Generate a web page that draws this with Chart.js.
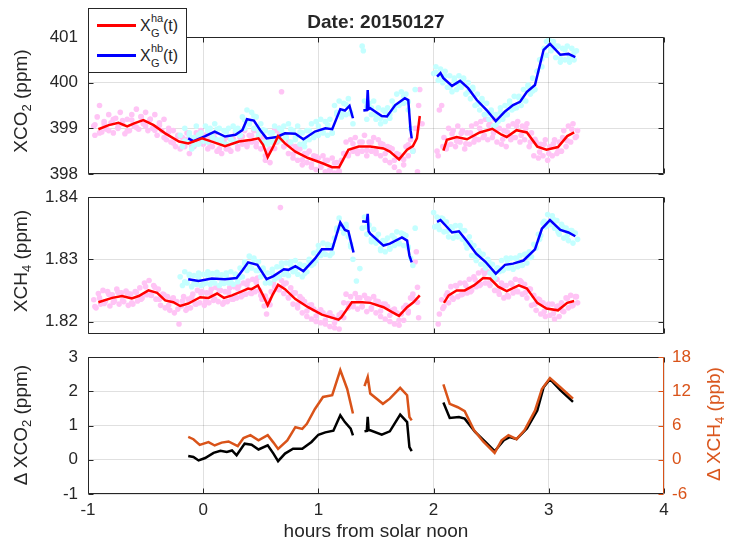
<!DOCTYPE html>
<html>
<head>
<meta charset="utf-8">
<script src="https://cdn.jsdelivr.net/npm/chart.js@4.4.1/dist/chart.umd.min.js"></script>
<style>
  body { margin: 0; background: #fff; font-family: "Liberation Sans", Arial, sans-serif; color: #262626; }
  #wrap { position: relative; width: 732px; height: 543px; overflow: hidden; }
  canvas { position: absolute; left: 0; }
  .t { position: absolute; white-space: nowrap; line-height: 1; }
  .rot { transform: translate(-50%, -50%) rotate(-90deg); font-size: 19px; }
  .rot sub { font-size: 13px; vertical-align: -4px; line-height: 1; }
  #legend { position: absolute; left: 88px; top: 8px; width: 97px; height: 63px; border: 1px solid #262626; background: #fff; }
  .swatch { position: absolute; left: 97px; width: 39px; height: 3px; }
</style>
</head>
<body>
<div id="wrap">
  <canvas id="c1" width="732" height="190" style="top:0"></canvas>
  <canvas id="c2" width="732" height="170" style="top:180px"></canvas>
  <canvas id="c3" width="732" height="203" style="top:340px"></canvas>

  <div class="t" style="left:376px;top:12px;font-size:19px;font-weight:bold;transform:translateX(-50%)">Date: 20150127</div>

  <div class="t rot" style="left:22px;top:101px">XCO<sub>2</sub> (ppm)</div>
  <div class="t rot" style="left:22px;top:261px">XCH<sub>4</sub> (ppm)</div>
  <div class="t rot" style="left:22px;top:425px">&Delta; XCO<sub>2</sub> (ppm)</div>
  <div class="t rot" style="left:715px;top:424px;color:#d95319">&Delta; XCH<sub>4</sub> (ppb)</div>
  <div class="t" style="left:376px;top:521px;font-size:19px;transform:translateX(-50%)">hours from solar noon</div>

  <div id="legend"></div>
  <div class="swatch" style="top:24px;background:#ff0000"></div>
  <div class="swatch" style="top:54px;background:#0000ff"></div>
  <div class="t" style="left:140px;top:18px;font-size:16px">X</div>
  <div class="t" style="left:151px;top:13px;font-size:11px">ha</div>
  <div class="t" style="left:151px;top:28px;font-size:11px">G</div>
  <div class="t" style="left:163px;top:18px;font-size:16px">(t)</div>
  <div class="t" style="left:140px;top:48px;font-size:16px">X</div>
  <div class="t" style="left:151px;top:43px;font-size:11px">hb</div>
  <div class="t" style="left:151px;top:58px;font-size:11px">G</div>
  <div class="t" style="left:163px;top:48px;font-size:16px">(t)</div>
</div>
<script>
// axis ticks
const X_TICKS = [-1, 0, 1, 2, 3, 4];
const X_TICK_LABELS = ['-1', '0', '1', '2', '3', '4'];
const CO2_TICKS = [398, 399, 400, 401];
const CO2_TICK_LABELS = ['398', '399', '400', '401'];
const CH4_TICKS = [1.82, 1.83, 1.84];
const CH4_TICK_LABELS = ['1.82', '1.83', '1.84'];
const DCO2_TICKS = [-1, 0, 1, 2, 3];
const DCO2_TICK_LABELS = ['-1', '0', '1', '2', '3'];
const DCH4_TICKS = [-6, 0, 6, 12, 18];
const DCH4_TICK_LABELS = ['-6', '0', '6', '12', '18'];

// XCO2 smoothed lines (ppm), null = gap
const co2HaHours = [-0.91,-0.82,-0.735,-0.66,-0.6,-0.52,-0.43,-0.33,-0.21,-0.13,-0.01,0.075,0.19,0.31,0.42,0.48,0.52,0.56,0.6,0.65,0.71,0.8,0.91,1.03,1.12,1.18,1.26,1.35,1.45,1.565,1.62,1.70,1.77,1.82,1.855,1.88,1.95,2.085,2.115,2.20,2.29,2.40,2.51,2.59,2.635,2.72,2.81,2.90,2.98,3.08,3.16,3.22];
const co2HaVals  = [398.98,399.07,399.12,399.04,399.11,399.18,399.07,398.89,398.71,398.67,398.78,398.71,398.61,398.71,398.75,398.78,398.64,398.37,398.56,398.83,398.67,398.49,398.35,398.24,398.15,398.15,398.53,398.6,398.6,398.56,398.49,398.32,398.53,398.61,398.78,399.27,null,398.51,398.75,398.81,398.76,398.91,398.99,398.86,398.81,398.96,398.91,398.6,398.53,398.59,398.83,398.91];
const co2HbHours = [-0.13,-0.085,0.017,0.10,0.19,0.28,0.34,0.38,0.44,0.495,0.55,0.64,0.71,0.80,0.87,0.97,1.06,1.12,1.19,1.23,1.27,1.30,1.35,1.39,1.42,1.428,1.436,1.45,1.55,1.595,1.667,1.75,1.78,1.80,1.81,1.9,2.03,2.06,2.085,2.16,2.23,2.30,2.375,2.46,2.54,2.62,2.69,2.75,2.81,2.88,2.955,3.01,3.10,3.17,3.23];
const co2HbVals  = [398.78,398.72,398.83,398.93,398.82,398.86,398.96,399.2,399.17,398.96,398.78,398.81,398.89,398.88,398.76,398.93,399.0,398.98,399.42,399.39,399.49,399.22,null,399.39,399.40,399.84,399.42,399.44,399.27,399.26,399.51,399.66,399.62,398.96,398.78,null,400.13,400.21,400.1,399.93,400.04,399.88,399.62,399.4,399.16,399.37,399.51,399.58,399.8,399.95,400.72,400.85,400.61,400.63,400.56];

// XCH4 smoothed lines (ppm)
const ch4HaHours = [-0.91,-0.79,-0.705,-0.62,-0.56,-0.475,-0.40,-0.33,-0.26,-0.20,-0.13,-0.026,0.046,0.12,0.18,0.25,0.34,0.39,0.42,0.475,0.52,0.56,0.60,0.65,0.71,0.80,0.91,1.03,1.175,1.20,1.29,1.38,1.45,1.565,1.64,1.70,1.77,1.825,1.88,1.95,2.09,2.13,2.20,2.27,2.35,2.43,2.49,2.56,2.635,2.68,2.74,2.81,2.90,2.98,3.08,3.16,3.22];
const ch4HaVals  = [1.8231,1.8238,1.8241,1.8237,1.8241,1.8250,1.8246,1.8234,1.8231,1.8225,1.8229,1.8239,1.8238,1.8245,1.8238,1.8242,1.8249,1.8253,1.8252,1.8258,1.8242,1.8226,1.8242,1.8259,1.8252,1.8236,1.8223,1.8211,1.8203,1.8207,1.8231,1.8231,1.8230,1.8223,1.8215,1.8209,1.8223,1.8231,1.8242,null,1.8230,1.8242,1.8250,1.8250,1.8258,1.8270,1.8269,1.8256,1.8249,1.8253,1.8258,1.8253,1.8230,1.8221,1.8218,1.8230,1.8233];
const ch4HbHours = [-0.13,-0.04,0.075,0.19,0.29,0.34,0.39,0.47,0.55,0.61,0.70,0.74,0.80,0.87,0.97,1.03,1.12,1.19,1.23,1.26,1.305,1.34,1.38,1.42,1.428,1.436,1.45,1.565,1.62,1.725,1.77,1.79,1.81,1.9,2.03,2.06,2.10,2.16,2.22,2.29,2.37,2.45,2.54,2.62,2.69,2.78,2.88,2.94,3.01,3.10,3.17,3.23];
const ch4HbVals  = [1.8268,1.8265,1.8269,1.8268,1.8270,1.8282,1.8295,1.8291,1.8268,1.8273,1.8284,1.8283,1.8289,1.8281,1.8301,1.8316,1.8316,1.8359,1.8347,1.8345,1.8311,null,1.8361,1.8360,1.8373,1.8345,1.8341,1.8322,1.8325,1.8335,1.8330,1.8306,1.8295,null,1.8360,1.8363,1.8355,1.8343,1.8345,1.8329,1.8309,1.8296,1.8277,1.8291,1.8293,1.8298,1.8316,1.8349,1.8363,1.8347,1.8343,1.8337];

// differences: dXCO2 (ppm, left) and dXCH4 (ppb, right)
const dco2Hours = [-0.13,-0.085,-0.04,0.017,0.09,0.15,0.205,0.25,0.29,0.36,0.42,0.48,0.56,0.61,0.65,0.71,0.78,0.86,0.94,1.00,1.06,1.13,1.19,1.23,1.28,1.30,1.35,1.40,1.42,1.428,1.436,1.45,1.55,1.62,1.71,1.77,1.79,1.81,1.9,2.085,2.14,2.22,2.27,2.36,2.45,2.53,2.61,2.66,2.72,2.81,2.90,2.955,3.01,3.10,3.21];
const dco2Vals  = [0.11,0.08,-0.02,0.05,0.20,0.26,0.23,0.27,0.13,0.47,0.44,0.30,0.42,0.18,-0.04,0.18,0.32,0.32,0.52,0.73,0.80,0.85,1.30,1.10,0.91,0.71,null,0.83,0.84,1.25,0.86,0.86,0.73,0.83,1.32,1.10,0.37,0.25,null,1.67,1.22,1.25,1.20,0.81,0.52,0.25,0.57,0.66,0.60,0.91,1.44,2.12,2.35,2.03,1.69];
const dch4Hours = [-0.13,-0.085,-0.03,0.046,0.10,0.16,0.22,0.30,0.35,0.41,0.48,0.56,0.61,0.65,0.73,0.80,0.86,0.90,0.97,1.04,1.12,1.19,1.25,1.30,1.35,1.40,1.428,1.45,1.56,1.62,1.71,1.77,1.79,1.81,1.9,2.085,2.14,2.21,2.27,2.35,2.43,2.53,2.59,2.65,2.72,2.79,2.88,2.94,3.01,3.10,3.21];
const dch4Vals  = [4.0,3.6,2.6,3.1,2.5,3.0,3.2,2.4,3.8,4.3,3.4,4.3,3.0,1.9,3.4,5.7,5.4,6.3,8.9,11.0,11.3,15.7,12.4,8.1,null,12.9,14.5,11.6,9.8,10.7,12.6,11.3,7.5,6.9,null,13.2,9.8,9.2,8.5,5.2,3.2,1.2,3.4,4.3,3.6,5.2,8.6,12.4,14.3,12.7,10.7];

// individual soundings [hours, value] - outer spread
const co2HaDots = [[-0.95,399.05],[-0.94,398.85],[-0.92,399.25],[-0.9,399.5],[-0.88,398.92],[-0.86,399.15],[-0.84,398.98],[-0.82,399.3],[-0.8,399.12],[-0.78,398.9],[-0.76,399.22],[-0.74,399.0],[-0.72,399.35],[-0.7,399.1],[-0.68,398.88],[-0.66,399.2],[-0.64,398.95],[-0.62,399.3],[-0.6,399.05],[-0.58,399.42],[-0.56,398.98],[-0.54,399.25],[-0.52,399.1],[-0.5,399.35],[-0.48,398.95],[-0.46,399.2],[-0.44,399.0],[-0.42,399.3],[-0.4,398.85],[-0.38,399.12],[-0.36,398.95],[-0.34,399.2],[-0.32,398.75],[-0.3,399.0],[-0.28,398.7],[-0.26,398.95],[-0.24,398.6],[-0.22,398.85],[-0.2,398.55],[-0.18,398.8],[-0.16,398.6],[-0.14,398.9],[-0.12,398.45],[-0.1,398.75],[-0.08,398.6],[-0.06,398.9],[-0.04,398.7],[-0.02,398.95],[0,398.65],[0.02,398.85],[0.04,398.55],[0.06,398.8],[0.08,398.6],[0.1,398.9],[0.12,398.5],[0.14,398.7],[0.16,398.45],[0.18,398.75],[0.2,398.55],[0.22,398.8],[0.24,398.5],[0.26,398.7],[0.28,398.9],[0.3,398.55],[0.32,398.8],[0.34,398.65],[0.36,398.95],[0.38,398.6],[0.4,398.85],[0.42,398.7],[0.44,398.95],[0.46,398.6],[0.48,398.9],[0.5,398.55],[0.52,398.8],[0.54,398.3],[0.56,398.5],[0.58,398.25],[0.6,398.7],[0.62,398.95],[0.64,398.7],[0.66,399.0],[0.68,399.8],[0.7,398.6],[0.72,398.8],[0.74,398.45],[0.76,398.65],[0.78,398.35],[0.8,398.6],[0.82,398.3],[0.84,398.55],[0.86,398.2],[0.88,398.45],[0.9,398.25],[0.92,398.5],[0.94,398.15],[0.96,398.4],[0.98,398.1],[1,398.35],[1.02,398.15],[1.04,398.4],[1.06,398.05],[1.08,398.3],[1.1,398.1],[1.12,398.35],[1.14,398.02],[1.16,398.25],[1.18,398.05],[1.2,398.3],[1.22,398.45],[1.24,398.7],[1.26,398.4],[1.28,398.75],[1.3,398.5],[1.32,398.8],[1.34,398.45],[1.36,398.7],[1.38,398.5],[1.4,398.85],[1.42,398.4],[1.44,398.7],[1.46,398.5],[1.48,398.8],[1.5,398.45],[1.52,398.75],[1.54,398.4],[1.56,398.65],[1.58,398.3],[1.6,398.6],[1.62,398.25],[1.64,398.55],[1.66,398.15],[1.68,398.45],[1.7,398.05],[1.72,398.35],[1.74,398.2],[1.76,398.6],[1.78,398.4],[1.8,398.75],[1.82,398.5],[1.84,399.0],[1.86,398.05],[1.87,399.5],[1.88,399.85],[1.9,399.1],
  [2.03,398.5],[2.05,399.4],[2.07,399.5],[2.09,398.8],[2.11,398.55],[2.13,399.0],[2.15,398.65],[2.17,398.95],[2.19,398.6],[2.21,399.05],[2.23,398.7],[2.25,398.95],[2.27,398.55],[2.29,398.9],[2.31,398.65],[2.33,399.05],[2.35,398.7],[2.37,399.1],[2.39,398.75],[2.41,399.15],[2.43,398.8],[2.45,399.2],[2.47,398.75],[2.49,399.1],[2.51,398.8],[2.53,399.2],[2.55,398.7],[2.57,399.0],[2.59,398.65],[2.61,398.95],[2.63,398.6],[2.65,399.05],[2.67,398.75],[2.69,399.1],[2.71,398.8],[2.73,399.15],[2.75,398.7],[2.77,399.05],[2.79,398.75],[2.81,399.1],[2.83,398.6],[2.85,398.9],[2.87,398.4],[2.89,398.7],[2.91,398.35],[2.93,398.65],[2.95,398.4],[2.97,398.75],[2.99,398.3],[3.01,398.6],[3.03,398.4],[3.05,398.75],[3.07,398.45],[3.09,398.7],[3.11,398.5],[3.13,398.95],[3.15,398.6],[3.17,399.05],[3.19,398.7],[3.21,399.1],[3.23,398.8],[3.25,398.95]];
const co2HbDots = [[-0.2,398.85],[-0.18,398.6],[-0.16,399.0],[-0.14,398.7],[-0.12,398.9],[-0.1,398.55],[-0.08,398.8],[-0.06,399.05],[-0.04,398.65],[-0.02,398.9],[0,398.75],[0.02,399.05],[0.04,398.7],[0.06,399.0],[0.08,398.8],[0.1,399.1],[0.12,398.75],[0.14,399.0],[0.16,398.7],[0.18,398.95],[0.2,398.65],[0.22,399.0],[0.24,398.75],[0.26,399.05],[0.28,398.7],[0.3,399.0],[0.32,398.85],[0.34,399.25],[0.36,399.0],[0.38,399.4],[0.4,399.1],[0.42,399.35],[0.44,399.0],[0.46,399.25],[0.48,398.85],[0.5,399.1],[0.52,398.7],[0.54,398.95],[0.56,398.65],[0.58,398.9],[0.6,398.7],[0.62,399.05],[0.64,398.8],[0.66,399.0],[0.68,398.75],[0.7,399.05],[0.72,398.8],[0.74,399.1],[0.76,398.7],[0.78,398.95],[0.8,398.75],[0.82,399.05],[0.84,398.65],[0.86,398.9],[0.88,398.6],[0.9,398.95],[0.92,398.75],[0.94,399.1],[0.96,398.8],[0.98,399.15],[1,398.85],[1.02,399.2],[1.04,398.9],[1.06,399.15],[1.08,398.85],[1.1,399.2],[1.12,398.9],[1.14,399.5],[1.16,399.3],[1.18,399.6],[1.2,399.25],[1.22,399.55],[1.24,399.3],[1.26,399.65],[1.28,399.35],[1.3,399.1],[1.38,400.8],[1.39,400.7],[1.4,399.6],[1.42,399.2],[1.44,399.55],[1.46,399.3],[1.48,399.6],[1.5,399.2],[1.52,399.45],[1.54,399.1],[1.56,399.4],[1.58,399.15],[1.6,399.45],[1.62,399.3],[1.64,399.6],[1.66,399.4],[1.68,399.75],[1.7,399.5],[1.72,399.8],[1.74,399.55],[1.76,399.75],[1.78,399.4],[1.8,399.0],[1.82,398.5],[1.84,399.85],
  [2,400.2],[2.02,400.35],[2.04,400.05],[2.06,400.3],[2.08,400.0],[2.1,400.25],[2.12,399.9],[2.14,400.15],[2.16,399.8],[2.18,400.1],[2.2,399.85],[2.22,400.15],[2.24,399.9],[2.26,400.1],[2.28,399.75],[2.3,400.0],[2.32,399.65],[2.34,399.9],[2.36,399.5],[2.38,399.75],[2.4,399.4],[2.42,399.65],[2.44,399.3],[2.46,399.55],[2.48,399.2],[2.5,399.4],[2.52,399.05],[2.54,399.3],[2.56,399.15],[2.58,399.45],[2.6,399.2],[2.62,399.5],[2.64,399.3],[2.66,399.6],[2.68,399.4],[2.7,399.7],[2.72,399.45],[2.74,399.7],[2.76,399.5],[2.78,399.85],[2.8,399.6],[2.82,399.95],[2.84,399.75],[2.86,400.1],[2.88,399.85],[2.9,400.25],[2.92,400.5],[2.94,400.35],[2.96,400.75],[2.98,400.6],[3,400.95],[3.02,400.7],[3.04,400.9],[3.06,400.55],[3.08,400.8],[3.1,400.45],[3.12,400.75],[3.14,400.5],[3.16,400.8],[3.18,400.45],[3.2,400.75],[3.22,400.5],[3.24,400.7]];
const ch4HaDots = [[-0.95,1.8235],[-0.93,1.8222],[-0.91,1.8245],[-0.89,1.8228],[-0.87,1.825],[-0.85,1.8232],[-0.83,1.8248],[-0.81,1.8225],[-0.79,1.8243],[-0.77,1.8233],[-0.75,1.8252],[-0.73,1.8228],[-0.71,1.8246],[-0.69,1.8232],[-0.67,1.8249],[-0.65,1.8226],[-0.63,1.8244],[-0.61,1.8228],[-0.59,1.8248],[-0.57,1.8233],[-0.55,1.8254],[-0.53,1.8238],[-0.51,1.8262],[-0.49,1.8243],[-0.47,1.8266],[-0.45,1.8242],[-0.43,1.8258],[-0.41,1.8236],[-0.39,1.8252],[-0.37,1.8226],[-0.35,1.8244],[-0.33,1.8222],[-0.31,1.824],[-0.29,1.8218],[-0.27,1.8236],[-0.25,1.8214],[-0.23,1.8232],[-0.21,1.8196],[-0.19,1.8225],[-0.17,1.824],[-0.15,1.8218],[-0.13,1.8236],[-0.11,1.8222],[-0.09,1.8244],[-0.07,1.8228],[-0.05,1.825],[-0.03,1.823],[-0.01,1.8248],[0.01,1.8226],[0.03,1.8246],[0.05,1.823],[0.07,1.8252],[0.09,1.8234],[0.11,1.8255],[0.13,1.8232],[0.15,1.825],[0.17,1.8228],[0.19,1.8248],[0.21,1.8232],[0.23,1.8254],[0.25,1.8236],[0.27,1.8256],[0.29,1.8238],[0.31,1.8258],[0.33,1.824],[0.35,1.8262],[0.37,1.8244],[0.39,1.8265],[0.41,1.8246],[0.43,1.8268],[0.45,1.8248],[0.47,1.827],[0.49,1.825],[0.51,1.8236],[0.53,1.8225],[0.55,1.8212],[0.57,1.8234],[0.59,1.8248],[0.61,1.8262],[0.63,1.827],[0.65,1.8252],[0.67,1.8383],[0.68,1.8266],[0.7,1.8245],[0.72,1.8262],[0.74,1.8238],[0.76,1.8254],[0.78,1.8228],[0.8,1.8246],[0.82,1.8222],[0.84,1.824],[0.86,1.8214],[0.88,1.8232],[0.9,1.8208],[0.92,1.8226],[0.94,1.8204],[0.96,1.822],[0.98,1.82],[1,1.8216],[1.02,1.8198],[1.04,1.8214],[1.06,1.8196],[1.08,1.821],[1.1,1.8192],[1.12,1.8208],[1.14,1.819],[1.16,1.8204],[1.18,1.8188],[1.2,1.8214],[1.22,1.823],[1.24,1.8244],[1.26,1.8222],[1.28,1.824],[1.3,1.8226],[1.32,1.8245],[1.34,1.822],[1.36,1.8238],[1.38,1.8224],[1.4,1.8242],[1.42,1.8216],[1.44,1.8236],[1.46,1.822],[1.48,1.824],[1.5,1.8214],[1.52,1.8232],[1.54,1.8208],[1.56,1.8228],[1.58,1.8204],[1.6,1.8224],[1.62,1.82],[1.64,1.8218],[1.66,1.8196],[1.68,1.8214],[1.7,1.8194],[1.72,1.8212],[1.74,1.8202],[1.76,1.8226],[1.78,1.8214],[1.8,1.8238],[1.82,1.8244],[1.84,1.8296],[1.85,1.8312],[1.86,1.8255],[1.87,1.8206],
  [2.04,1.8196],[2.05,1.8212],[2.07,1.8235],[2.09,1.8224],[2.11,1.8242],[2.13,1.823],[2.15,1.8256],[2.17,1.8236],[2.19,1.8258],[2.21,1.824],[2.23,1.8262],[2.25,1.8244],[2.27,1.8262],[2.29,1.8246],[2.31,1.8268],[2.33,1.825],[2.35,1.8272],[2.37,1.8256],[2.39,1.8278],[2.41,1.826],[2.43,1.8282],[2.45,1.8262],[2.47,1.828],[2.49,1.8258],[2.51,1.8276],[2.53,1.825],[2.55,1.8268],[2.57,1.8244],[2.59,1.8262],[2.61,1.8238],[2.63,1.8258],[2.65,1.824],[2.67,1.8262],[2.69,1.8246],[2.71,1.8268],[2.73,1.8248],[2.75,1.8266],[2.77,1.8244],[2.79,1.826],[2.81,1.8238],[2.83,1.8252],[2.85,1.8226],[2.87,1.8242],[2.89,1.8218],[2.91,1.8236],[2.93,1.8212],[2.95,1.823],[2.97,1.8208],[2.99,1.8226],[3.01,1.821],[3.03,1.8228],[3.05,1.8204],[3.07,1.8224],[3.09,1.8208],[3.11,1.823],[3.13,1.8216],[3.15,1.8238],[3.17,1.8222],[3.19,1.8242],[3.21,1.8226],[3.23,1.824],[3.25,1.823]];
const ch4HbDots = [[-0.2,1.8272],[-0.18,1.8258],[-0.16,1.828],[-0.14,1.8262],[-0.12,1.8276],[-0.1,1.8256],[-0.08,1.8274],[-0.06,1.826],[-0.04,1.8278],[-0.02,1.8258],[0,1.8276],[0.02,1.8262],[0.04,1.828],[0.06,1.826],[0.08,1.8277],[0.1,1.8262],[0.12,1.8279],[0.14,1.8258],[0.16,1.8275],[0.18,1.8261],[0.2,1.8278],[0.22,1.8262],[0.24,1.828],[0.26,1.826],[0.28,1.8276],[0.3,1.8264],[0.32,1.8286],[0.34,1.8272],[0.36,1.8296],[0.38,1.8282],[0.4,1.8305],[0.42,1.8286],[0.44,1.8302],[0.46,1.8282],[0.48,1.8296],[0.5,1.8272],[0.52,1.8286],[0.54,1.8262],[0.56,1.8278],[0.58,1.8262],[0.6,1.8284],[0.62,1.8268],[0.64,1.8288],[0.66,1.8272],[0.68,1.8294],[0.7,1.8276],[0.72,1.8294],[0.74,1.8274],[0.76,1.8296],[0.78,1.828],[0.8,1.8298],[0.82,1.8276],[0.84,1.8292],[0.86,1.8272],[0.88,1.829],[0.9,1.828],[0.92,1.83],[0.94,1.829],[0.96,1.831],[0.98,1.8298],[1,1.8322],[1.02,1.8306],[1.04,1.8326],[1.06,1.8308],[1.08,1.8324],[1.1,1.8306],[1.12,1.8322],[1.14,1.8334],[1.16,1.835],[1.18,1.8366],[1.2,1.835],[1.22,1.8342],[1.24,1.8356],[1.26,1.8336],[1.28,1.832],[1.3,1.83],[1.33,1.8265],[1.36,1.8285],[1.38,1.835],[1.4,1.8368],[1.42,1.834],[1.44,1.8355],[1.46,1.8332],[1.48,1.8348],[1.5,1.8326],[1.52,1.834],[1.54,1.8314],[1.56,1.833],[1.58,1.8312],[1.6,1.8334],[1.62,1.8316],[1.64,1.8338],[1.66,1.8322],[1.68,1.8344],[1.7,1.8326],[1.72,1.8342],[1.74,1.8322],[1.76,1.8338],[1.78,1.832],[1.8,1.8302],[1.82,1.829],[1.84,1.835],
  [2,1.8375],[2.01,1.8352],[2.03,1.8368],[2.05,1.8348],[2.07,1.8366],[2.09,1.8344],[2.11,1.836],[2.13,1.8336],[2.15,1.8352],[2.17,1.8334],[2.19,1.8354],[2.21,1.8336],[2.23,1.8354],[2.25,1.8332],[2.27,1.8346],[2.29,1.8318],[2.31,1.8336],[2.33,1.8306],[2.35,1.8322],[2.37,1.8298],[2.39,1.8314],[2.41,1.8292],[2.43,1.8308],[2.45,1.8286],[2.47,1.83],[2.49,1.8278],[2.51,1.8292],[2.53,1.827],[2.55,1.8286],[2.57,1.828],[2.59,1.8298],[2.61,1.8284],[2.63,1.8302],[2.65,1.8286],[2.67,1.8302],[2.69,1.8284],[2.71,1.8302],[2.73,1.8288],[2.75,1.8306],[2.77,1.829],[2.79,1.8308],[2.81,1.8294],[2.83,1.8312],[2.85,1.8304],[2.87,1.8324],[2.89,1.8318],[2.91,1.834],[2.93,1.8338],[2.95,1.8358],[2.97,1.8352],[2.99,1.8372],[3.01,1.8356],[3.03,1.837],[3.05,1.835],[3.07,1.8362],[3.09,1.834],[3.11,1.8356],[3.13,1.8334],[3.15,1.835],[3.17,1.833],[3.19,1.8346],[3.21,1.8326],[3.23,1.8342],[3.25,1.8332]];

// soundings closer to the smoothed lines
const co2HaDotsNear = [[-0.94,399.08],[-0.9,398.9],[-0.86,399.1],[-0.82,398.95],[-0.78,399.2],[-0.74,399.02],[-0.7,399.17],[-0.66,398.94],[-0.62,399.18],[-0.58,399.02],[-0.54,399.26],[-0.5,399.05],[-0.46,399.2],[-0.42,398.96],[-0.38,399.07],[-0.34,398.8],[-0.3,398.92],[-0.26,398.68],[-0.22,398.82],[-0.18,398.6],[-0.14,398.76],[-0.1,398.6],[-0.06,398.83],[-0.02,398.68],[0.02,398.85],[0.06,398.62],[0.1,398.78],[0.14,398.55],[0.18,398.7],[0.22,398.55],[0.26,398.77],[0.3,398.6],[0.34,398.82],[0.38,398.65],[0.42,398.84],[0.46,398.68],[0.5,398.8],[0.54,398.4],[0.58,398.55],[0.62,398.56],[0.66,398.9],[0.7,398.6],[0.74,398.7],[0.78,398.43],[0.82,398.55],[0.86,398.31],[0.9,398.45],[0.94,398.22],[0.98,398.38],[1.02,398.15],[1.06,398.3],[1.1,398.08],[1.14,398.24],[1.18,398.07],[1.22,398.45],[1.26,398.43],[1.3,398.66],[1.34,398.5],[1.38,398.7],[1.42,398.52],[1.46,398.7],[1.5,398.5],[1.54,398.67],[1.58,398.45],[1.62,398.58],[1.66,398.3],[1.7,398.42],[1.74,398.32],[1.78,398.64],[1.82,398.52],[1.86,399.0],
  [2.04,398.4],[2.08,398.6],[2.12,398.63],[2.16,398.88],[2.2,398.72],[2.24,398.89],[2.28,398.66],[2.32,398.9],[2.36,398.77],[2.4,399.0],[2.44,398.85],[2.48,399.07],[2.52,398.9],[2.56,399.0],[2.6,398.76],[2.64,398.92],[2.68,398.8],[2.72,399.05],[2.76,398.85],[2.8,399.0],[2.84,398.7],[2.88,398.76],[2.92,398.48],[2.96,398.65],[3,398.45],[3.04,398.66],[3.08,398.5],[3.12,398.8],[3.16,398.73],[3.2,398.98],[3.24,398.82]];
const co2HbDotsNear = [[-0.16,398.72],[-0.12,398.85],[-0.08,398.64],[-0.04,398.86],[0,398.72],[0.04,398.95],[0.08,398.83],[0.12,398.98],[0.16,398.76],[0.2,398.92],[0.24,398.76],[0.28,398.95],[0.32,398.85],[0.36,399.18],[0.4,399.1],[0.44,399.27],[0.48,398.96],[0.52,398.97],[0.56,398.7],[0.6,398.9],[0.64,398.73],[0.68,398.95],[0.72,398.8],[0.76,398.98],[0.8,398.8],[0.84,398.92],[0.88,398.7],[0.92,398.95],[0.96,398.84],[1,399.05],[1.04,398.92],[1.08,399.08],[1.12,398.9],[1.16,399.35],[1.2,399.33],[1.24,399.52],[1.28,399.32],[1.42,399.48],[1.46,399.45],[1.5,399.28],[1.54,399.22],[1.58,399.36],[1.62,399.22],[1.66,399.48],[1.7,399.52],[1.74,399.7],[1.78,399.58],
  [2.02,400.22],[2.06,400.12],[2.1,400.15],[2.14,399.9],[2.18,400.05],[2.22,399.95],[2.26,400.08],[2.3,399.8],[2.34,399.85],[2.38,399.53],[2.42,399.6],[2.46,399.32],[2.5,399.36],[2.54,399.08],[2.58,399.35],[2.62,399.29],[2.66,399.55],[2.7,399.44],[2.74,399.67],[2.78,399.62],[2.82,399.92],[2.86,399.82],[2.9,400.25],[2.94,400.52],[2.98,400.9],[3.02,400.74],[3.06,400.8],[3.1,400.53],[3.14,400.72],[3.18,400.55],[3.22,400.66]];
const ch4HaDotsNear = [[-0.94,1.8224],[-0.9,1.8238],[-0.86,1.8229],[-0.82,1.8244],[-0.78,1.8231],[-0.74,1.8247],[-0.7,1.8234],[-0.66,1.8246],[-0.62,1.823],[-0.58,1.8247],[-0.54,1.8236],[-0.5,1.8256],[-0.46,1.8243],[-0.42,1.8255],[-0.38,1.8236],[-0.34,1.8243],[-0.3,1.8226],[-0.26,1.8238],[-0.22,1.822],[-0.18,1.8233],[-0.14,1.8221],[-0.1,1.8239],[-0.06,1.8228],[-0.02,1.8246],[0.02,1.8232],[0.06,1.8246],[0.1,1.8236],[0.14,1.825],[0.18,1.8231],[0.22,1.8247],[0.26,1.8236],[0.3,1.8253],[0.34,1.8242],[0.38,1.8259],[0.42,1.8245],[0.46,1.8263],[0.5,1.8242],[0.54,1.8241],[0.58,1.8227],[0.62,1.8256],[0.66,1.8251],[0.7,1.826],[0.74,1.8239],[0.78,1.8246],[0.82,1.8227],[0.86,1.8236],[0.9,1.8217],[0.94,1.8227],[0.98,1.8209],[1.02,1.8219],[1.06,1.8202],[1.1,1.8214],[1.14,1.8198],[1.18,1.8211],[1.22,1.8206],[1.26,1.8229],[1.3,1.8224],[1.34,1.8238],[1.38,1.8224],[1.42,1.8237],[1.46,1.8222],[1.5,1.8233],[1.54,1.8217],[1.58,1.8228],[1.62,1.821],[1.66,1.822],[1.7,1.8202],[1.74,1.8222],[1.78,1.8217],[1.82,1.8237],[1.86,1.8231],
  [2.08,1.8221],[2.12,1.8246],[2.16,1.8238],[2.2,1.8257],[2.24,1.8243],[2.28,1.8258],[2.32,1.8248],[2.36,1.8267],[2.4,1.8258],[2.44,1.8277],[2.48,1.8262],[2.52,1.8271],[2.56,1.8249],[2.6,1.8258],[2.64,1.8242],[2.68,1.826],[2.72,1.8249],[2.76,1.8264],[2.8,1.8247],[2.84,1.8252],[2.88,1.8228],[2.92,1.8235],[2.96,1.8216],[3,1.8228],[3.04,1.8213],[3.08,1.8225],[3.12,1.8217],[3.16,1.8237],[3.2,1.8225],[3.24,1.824]];
const ch4HbDotsNear = [[-0.16,1.8264],[-0.12,1.8274],[-0.08,1.8261],[-0.04,1.8271],[0,1.826],[0.04,1.8274],[0.08,1.8263],[0.12,1.8275],[0.16,1.8262],[0.2,1.8274],[0.24,1.8263],[0.28,1.8276],[0.32,1.8271],[0.36,1.8293],[0.4,1.8289],[0.44,1.8299],[0.48,1.8282],[0.52,1.8283],[0.56,1.8263],[0.6,1.8278],[0.64,1.8271],[0.68,1.8288],[0.72,1.8278],[0.76,1.8291],[0.8,1.8283],[0.84,1.829],[0.88,1.8277],[0.92,1.8297],[0.96,1.8293],[1,1.8314],[1.04,1.831],[1.08,1.8322],[1.12,1.831],[1.16,1.8346],[1.2,1.835],[1.24,1.8352],[1.28,1.8324],[1.42,1.8352],[1.46,1.8328],[1.5,1.8334],[1.54,1.8317],[1.58,1.8329],[1.62,1.8318],[1.66,1.8334],[1.7,1.8325],[1.74,1.834],[1.78,1.8318],
  [2.04,1.8355],[2.08,1.8365],[2.12,1.8345],[2.16,1.8349],[2.2,1.8338],[2.24,1.8347],[2.28,1.8325],[2.32,1.8327],[2.36,1.8305],[2.4,1.831],[2.44,1.8292],[2.48,1.8296],[2.52,1.8275],[2.56,1.8286],[2.6,1.8282],[2.64,1.8298],[2.68,1.8287],[2.72,1.8301],[2.76,1.8291],[2.8,1.8308],[2.84,1.8303],[2.88,1.8322],[2.92,1.8332],[2.96,1.8361],[3,1.8356],[3.04,1.8364],[3.08,1.8344],[3.12,1.8352],[3.16,1.8338],[3.2,1.8346]];

const FONT = '"Liberation Sans", Arial, sans-serif';
const AXIS_COLOR = '#262626';
const ORANGE = '#d95319';
const GRID = 'rgba(0,0,0,0.12)';
const PINK = 'rgb(255,196,245)';
const CYAN = 'rgb(196,255,255)';

function pts(hours, vals) {
  return hours.map((h, i) => ({ x: h, y: vals[i] }));
}
function dots(list) {
  return list.map(p => ({ x: p[0], y: p[1] }));
}
function lineSet(data, color, axis) {
  return { data: data, borderColor: color, borderWidth: 2.5, pointRadius: 0, fill: false,
           spanGaps: false, tension: 0, yAxisID: axis || 'y' };
}
function dotSet(data, color) {
  return { data: data, showLine: false, pointRadius: 2.8, pointBorderWidth: 0,
           pointBackgroundColor: color, borderColor: color, yAxisID: 'y' };
}

// axes box with inward tick marks (matlab style)
const boxPlugin = {
  id: 'box',
  afterDatasetsDraw(chart) {
    const { ctx, chartArea: a, scales } = chart;
    const L = Math.round(a.left) + 0.5, R = Math.round(a.right) - 0.5;
    const T = Math.round(a.top) + 0.5, B = Math.round(a.bottom) - 0.5;
    const twin = !!scales.y2;
    ctx.save();
    ctx.lineWidth = 1;
    ctx.strokeStyle = AXIS_COLOR;
    ctx.beginPath();
    ctx.moveTo(R, T); ctx.lineTo(L, T); ctx.lineTo(L, B); ctx.lineTo(R, B);
    if (!twin) ctx.lineTo(R, T);
    X_TICKS.forEach(v => {
      const x = Math.round(scales.x.getPixelForValue(v)) + 0.5;
      ctx.moveTo(x, B); ctx.lineTo(x, B - 5);
      ctx.moveTo(x, T); ctx.lineTo(x, T + 5);
    });
    scales.y.ticks.forEach(t => {
      const y = Math.round(scales.y.getPixelForValue(t.value)) + 0.5;
      ctx.moveTo(L, y); ctx.lineTo(L + 5, y);
      if (!twin) { ctx.moveTo(R, y); ctx.lineTo(R - 5, y); }
    });
    ctx.stroke();
    if (twin) {
      ctx.strokeStyle = ORANGE;
      ctx.beginPath();
      ctx.moveTo(R, T); ctx.lineTo(R, B);
      scales.y2.ticks.forEach(t => {
        const y = Math.round(scales.y2.getPixelForValue(t.value)) + 0.5;
        ctx.moveTo(R, y); ctx.lineTo(R - 5, y);
      });
      ctx.stroke();
    }
    ctx.restore();
  }
};

function yAxis(ticks, labels, min, max, pos, color, width) {
  return {
    type: 'linear', position: pos, min: min, max: max,
    afterBuildTicks: ax => { ax.ticks = ticks.map(v => ({ value: v })); },
    afterFit: ax => { ax.width = width; ax.paddingTop = 0; ax.paddingBottom = 0; },
    grid: { color: GRID, drawTicks: false, display: pos === 'left' },
    border: { display: false },
    ticks: { color: color, padding: pos === 'left' ? 10 : 8, font: { size: 17, family: FONT },
             callback: (v, i) => labels[i] }
  };
}

function panel(id, datasets, y, extra) {
  const scales = {
    x: {
      type: 'linear', min: -1, max: 4,
      afterBuildTicks: ax => { ax.ticks = X_TICKS.map(v => ({ value: v })); },
      afterFit: ax => { ax.height = extra.xHeight; },
      grid: { color: GRID, drawTicks: false },
      border: { display: false },
      ticks: { display: extra.xLabels, color: AXIS_COLOR, padding: 6, maxRotation: 0,
               font: { size: 17, family: FONT }, callback: (v, i) => X_TICK_LABELS[i] }
    },
    y: y
  };
  if (extra.y2) scales.y2 = extra.y2;
  new Chart(document.getElementById(id), {
    type: 'line',
    data: { datasets: datasets },
    options: {
      responsive: false, animation: false, devicePixelRatio: 1,
      layout: { padding: { top: extra.top, right: extra.right, left: 0, bottom: 0 } },
      plugins: { legend: { display: false }, tooltip: { enabled: false } },
      scales: scales
    },
    plugins: [boxPlugin]
  });
}

panel('c1', [
  lineSet(pts(co2HaHours, co2HaVals), '#ff0000'),
  lineSet(pts(co2HbHours, co2HbVals), '#0000ff'),
  dotSet(dots(co2HbDots.concat(co2HbDotsNear)), CYAN),
  dotSet(dots(co2HaDots.concat(co2HaDotsNear)), PINK)
], yAxis(CO2_TICKS, CO2_TICK_LABELS, 398, 401, 'left', AXIS_COLOR, 88),
  { top: 37, xHeight: 16, xLabels: false, right: 68 });

panel('c2', [
  lineSet(pts(ch4HaHours, ch4HaVals), '#ff0000'),
  lineSet(pts(ch4HbHours, ch4HbVals), '#0000ff'),
  dotSet(dots(ch4HbDots.concat(ch4HbDotsNear)), CYAN),
  dotSet(dots(ch4HaDots.concat(ch4HaDotsNear)), PINK)
], yAxis(CH4_TICKS, CH4_TICK_LABELS, 1.818, 1.84, 'left', AXIS_COLOR, 88),
  { top: 17, xHeight: 16, xLabels: false, right: 68 });

panel('c3', [
  lineSet(pts(dch4Hours, dch4Vals), ORANGE, 'y2'),
  lineSet(pts(dco2Hours, dco2Vals), '#000000')
], yAxis(DCO2_TICKS, DCO2_TICK_LABELS, -1, 3, 'left', AXIS_COLOR, 88),
  { top: 17, xHeight: 49, xLabels: true, right: 0,
    y2: yAxis(DCH4_TICKS, DCH4_TICK_LABELS, -6, 18, 'right', ORANGE, 68) });
</script>
</body>
</html>
